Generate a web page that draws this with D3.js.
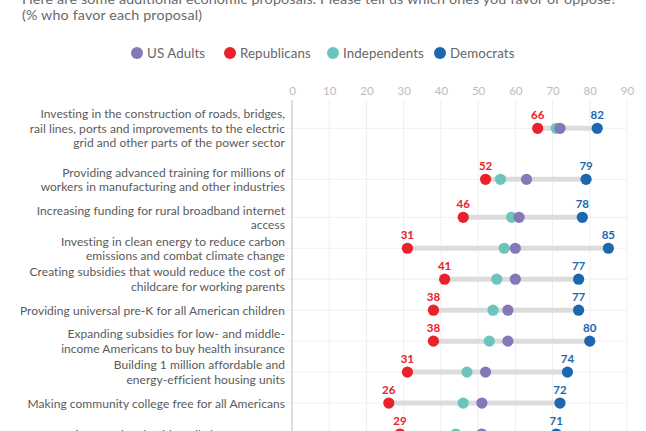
<!DOCTYPE html>
<html><head><meta charset="utf-8">
<script src="https://cdn.jsdelivr.net/npm/d3@7"></script>
<style>
html,body{margin:0;padding:0;background:#fff;}
svg{display:block;font-family:Lato,"Open Sans",sans-serif;}
</style></head>
<body><svg id="chart" width="646" height="431"></svg>
<script>
const titleLines = ["Here are some additional economic proposals. Please tell us which ones you favor or oppose?", "(% who favor each proposal)"];
const categories = [
  ["Investing in the construction of roads, bridges,", "rail lines, ports and improvements to the electric", "grid and other parts of the power sector"],
  ["Providing advanced training for millions of", "workers in manufacturing and other industries"],
  ["Increasing funding for rural broadband internet", "access"],
  ["Investing in clean energy to reduce carbon", "emissions and combat climate change"],
  ["Creating subsidies that would reduce the cost of", "childcare for working parents"],
  ["Providing universal pre-K for all American children"],
  ["Expanding subsidies for low- and middle-", "income Americans to buy health insurance"],
  ["Building 1 million affordable and", "energy-efficient housing units"],
  ["Making community college free for all Americans"],
  ["Creating a national paid family leave program"]
];
const seriesNames = ["US Adults", "Republicans", "Independents", "Democrats"];
const usAdults     = [72, 63, 61, 60, 60, 58, 58, 52, 51, 51];
const republicans  = [66, 52, 46, 31, 41, 38, 38, 31, 26, 29];
const independents = [71, 56, 59, 57, 55, 54, 53, 47, 46, 44];
const democrats    = [82, 79, 78, 85, 77, 77, 80, 74, 72, 71];
const xTicks = [0, 10, 20, 30, 40, 50, 60, 70, 80, 90];

const colors = {"US Adults":"#8678b8","Republicans":"#e8212b","Independents":"#6cc4bd","Democrats":"#1d67b1"};

const svg = d3.select("#chart");
const x = d3.scaleLinear().domain([0, 90]).range([292, 627]);
const idx = d3.range(categories.length);
const y = d3.scaleLinear().domain([0, 1, 2, 9]).range([128.3, 179.3, 217.3, 434]);

// title
svg.append("g").selectAll("text").data(titleLines).join("text")
  .attr("x", 22).attr("y", (d,i) => 3.5 + i*16)
  .attr("font-size", 14.3).attr("letter-spacing", 0.15).attr("fill", "#6a6a6a").text(d => d);

// legend
const legendX = [137, 230, 333, 440];
const lg = svg.append("g").selectAll("g").data(seriesNames).join("g")
  .attr("transform", (d,i) => `translate(${legendX[i]},53)`);
lg.append("circle").attr("r", 6).attr("fill", d => colors[d]);
lg.append("text").attr("x", 10).attr("dy", "0.35em").attr("font-size", 13.3)
  .attr("letter-spacing", 0.1).attr("fill", "#666").text(d => d);

// gridlines & axis
const grid = svg.append("g");
grid.selectAll("line.v").data(xTicks.slice(1)).join("line").attr("class","v")
  .attr("x1", d => x(d)).attr("x2", d => x(d)).attr("y1", 100).attr("y2", 431)
  .attr("stroke", "#efefef").attr("stroke-width", 1);
grid.selectAll("line.h").data(idx).join("line").attr("class","h")
  .attr("x1", 286).attr("x2", x(90)).attr("y1", d => y(d)).attr("y2", d => y(d))
  .attr("stroke", "#efefef").attr("stroke-width", 1);
grid.append("line").attr("x1", x(0)).attr("x2", x(0)).attr("y1", 100).attr("y2", 431)
  .attr("stroke", "#bdbdbd").attr("stroke-width", 1);

const axis = d3.axisTop(x).tickValues(xTicks).tickSize(0).tickPadding(0);
const ag = svg.append("g").attr("transform", "translate(0,95)").call(axis);
ag.select(".domain").remove();
ag.selectAll("text").attr("font-size", 11.5).attr("fill", "#bcbcbc").attr("font-family", "Lato,sans-serif");

// labels
const lh = 14.5;
const lab = svg.append("g").selectAll("text").data(idx).join("text")
  .attr("text-anchor", "end").attr("font-size", 12).attr("letter-spacing", 0.05).attr("fill", "#5a5a5a");
lab.each(function(i) {
  const lines = categories[i];
  const t = d3.select(this);
  lines.forEach((l, k) => {
    t.append("tspan").attr("x", 285)
      .attr("y", y(i) + (k - (lines.length - 1) / 2) * lh + 4.5)
      .text(l);
  });
});

// connecting bars
svg.append("g").selectAll("line").data(idx).join("line")
  .attr("x1", i => x(republicans[i])).attr("x2", i => x(democrats[i]))
  .attr("y1", i => y(i)).attr("y2", i => y(i))
  .attr("stroke", "#dcdcdc").attr("stroke-width", 5);

// dots
const seriesVals = [["Independents", independents], ["US Adults", usAdults], ["Republicans", republicans], ["Democrats", democrats]];
seriesVals.forEach(([name, vals]) => {
  svg.append("g").selectAll("circle").data(idx).join("circle")
    .attr("cx", i => x(vals[i])).attr("cy", i => y(i)).attr("r", 5.6)
    .attr("fill", colors[name]);
});

// value labels
[["Republicans", republicans], ["Democrats", democrats]].forEach(([name, vals]) => {
  svg.append("g").selectAll("text").data(idx).join("text")
    .attr("x", i => x(vals[i])).attr("y", i => y(i) - 9)
    .attr("text-anchor", "middle").attr("font-size", 11.5).attr("font-weight", "bold")
    .attr("fill", colors[name]).text(i => vals[i]);
});
</script></body></html>
